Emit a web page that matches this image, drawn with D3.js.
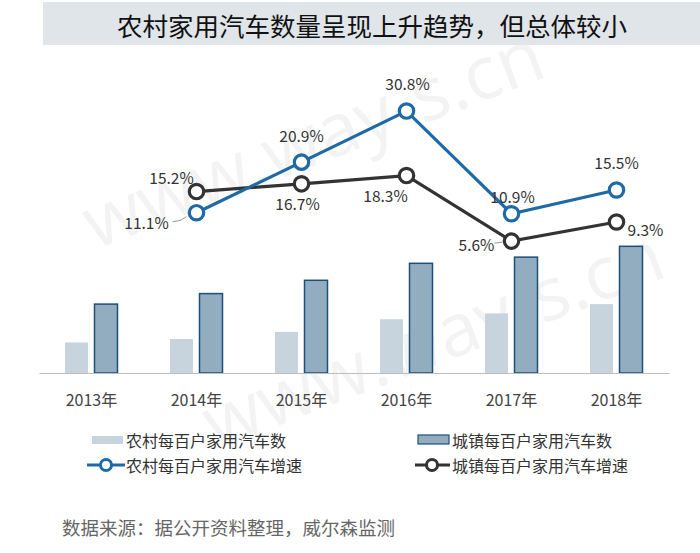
<!DOCTYPE html>
<html><head><meta charset="utf-8">
<script src="https://cdn.jsdelivr.net/npm/d3@7"></script>
<style>body{margin:0;background:#fff;}svg{display:block;font-family:"Noto Sans CJK SC","Noto Sans",sans-serif;}</style>
</head><body>
<svg id="c" width="700" height="553"></svg>
<script>
const years = ["2013年","2014年","2015年","2016年","2017年","2018年"];
const ruralCars = [9.9, 11.0, 13.3, 17.4, 19.3, 22.3];
const urbanCars = [22.3, 25.7, 30.0, 35.5, 37.5, 41.0];
const growthYears = ["2014年","2015年","2016年","2017年","2018年"];
const ruralGrowth = [11.1, 20.9, 30.8, 10.9, 15.5];
const urbanGrowth = [15.2, 16.7, 18.3, 5.6, 9.3];
const seriesNames = ["农村每百户家用汽车数","城镇每百户家用汽车数","农村每百户家用汽车增速","城镇每百户家用汽车增速"];
const titleText = "农村家用汽车数量呈现上升趋势，但总体较小";
const sourceText = "数据来源：据公开资料整理，威尔森监测";

const C = {rural:"#c7d4dd", urban:"#92adc0", urbanStroke:"#1d4f7c", blue:"#1f6aa5", dark:"#333333", text:"#333"};
const svg = d3.select("#c");

// watermark
[[95,250,-21],[215,450,-21]].forEach(([x,y,a])=>{
  svg.append("text").attr("transform",`translate(${x},${y}) rotate(${a})`)
    .attr("font-family","'Open Sans',sans-serif").attr("font-size",74).attr("fill","#000").attr("opacity",0.045)
    .text("www.way-s.cn");
});

// title bar
svg.append("rect").attr("x",43).attr("y",2).attr("width",657).attr("height",43).attr("fill","#dfe5e9");
svg.append("text").attr("x",372).attr("y",24).attr("text-anchor","middle").attr("dominant-baseline","central")
  .attr("font-size",25.5).attr("fill","#111").text(titleText);

const x = d3.scaleBand().domain(years).range([39,669]).padding(0);
const yBar = d3.scaleLinear().domain([0,100]).range([373,64]);
const yLine = d3.scaleLinear().domain([0,40]).range([270,63.6]);
const cx = d => x(d) + x.bandwidth()/2;

// bars
const g = svg.append("g");
g.selectAll(".r").data(years).join("rect")
  .attr("x",d=>cx(d)-26.5).attr("width",23)
  .attr("y",(d,i)=>yBar(ruralCars[i])).attr("height",(d,i)=>yBar(0)-yBar(ruralCars[i]))
  .attr("fill",C.rural);
g.selectAll(".u").data(years).join("rect")
  .attr("x",d=>cx(d)+3).attr("width",23)
  .attr("y",(d,i)=>yBar(urbanCars[i])).attr("height",(d,i)=>yBar(0)-yBar(urbanCars[i]))
  .attr("fill",C.urban).attr("stroke",C.urbanStroke).attr("stroke-width",1.5);

// axis
const ax = svg.append("g").attr("transform","translate(0,373)")
  .call(d3.axisBottom(x).tickSize(0).tickSizeOuter(0));
ax.select(".domain").attr("stroke","#bdbdbd").attr("stroke-width",1.2);
ax.selectAll("text").attr("y",27).attr("dy","0.35em").attr("font-size",16)
  .attr("font-family","'Noto Sans CJK SC',sans-serif").attr("fill","#444");

// lines
const line = d3.line().x((d,i)=>cx(growthYears[i])).y(d=>yLine(d));
function drawSeries(vals,color){
  svg.append("path").datum(vals).attr("d",line).attr("fill","none").attr("stroke",color).attr("stroke-width",3.2);
  svg.selectAll(null).data(vals).join("circle")
    .attr("cx",(d,i)=>cx(growthYears[i])).attr("cy",d=>yLine(d)).attr("r",7.2)
    .attr("fill","#fff").attr("stroke",color).attr("stroke-width",3.2);
}
drawSeries(urbanGrowth,C.dark);
drawSeries(ruralGrowth,C.blue);

// labels
const ruralOff = [[-50,9],[0,-27],[1,-28],[1,-18],[0,-28]];
const urbanOff = [[-25,-15],[-4,19],[-21,19],[-35,3],[29,7]];
function labels(vals,off){
  svg.selectAll(null).data(vals).join("text")
    .attr("x",(d,i)=>cx(growthYears[i])+off[i][0]).attr("y",(d,i)=>yLine(d)+off[i][1])
    .attr("text-anchor","middle").attr("dominant-baseline","central")
    .attr("font-size",15.5).attr("fill",C.text).text(d=>d.toFixed(1)+"%");
}
labels(ruralGrowth,ruralOff);
labels(urbanGrowth,urbanOff);
// leader lines
svg.append("path").attr("d",`M${cx(growthYears[0])-24},${yLine(ruralGrowth[0])+9} Q${cx(growthYears[0])-16},${yLine(ruralGrowth[0])+9} ${cx(growthYears[0])-10},${yLine(ruralGrowth[0])+4}`)
  .attr("fill","none").attr("stroke","#999").attr("stroke-width",1);
svg.append("path").attr("d",`M${cx(growthYears[3])-17},${yLine(urbanGrowth[3])+2} L${cx(growthYears[3])-9},${yLine(urbanGrowth[3])+1}`)
  .attr("fill","none").attr("stroke","#999").attr("stroke-width",1);

// legend
const lg = svg.append("g").attr("font-size",16).attr("fill","#333");
lg.append("rect").attr("x",92).attr("y",436).attr("width",31).attr("height",8).attr("fill",C.rural);
lg.append("text").attr("x",126).attr("y",440).attr("dominant-baseline","central").text(seriesNames[0]);
lg.append("rect").attr("x",418).attr("y",435).attr("width",31).attr("height",9).attr("fill",C.urban).attr("stroke",C.urbanStroke).attr("stroke-width",1.2);
lg.append("text").attr("x",452).attr("y",440).attr("dominant-baseline","central").text(seriesNames[1]);
[[87,125,106,C.blue,seriesNames[2],126],[415,450,432,C.dark,seriesNames[3],452]].forEach(([x1,x2,c,col,name,tx])=>{
  lg.append("line").attr("x1",x1).attr("x2",x2).attr("y1",465).attr("y2",465).attr("stroke",col).attr("stroke-width",3.2);
  lg.append("circle").attr("cx",c).attr("cy",465).attr("r",5.5).attr("fill","#fff").attr("stroke",col).attr("stroke-width",3);
  lg.append("text").attr("x",tx).attr("y",465).attr("dominant-baseline","central").text(name);
});

// source
svg.append("text").attr("x",62).attr("y",527).attr("dominant-baseline","central")
  .attr("font-size",18.5).attr("fill","#666").text(sourceText);
</script>
</body></html>
